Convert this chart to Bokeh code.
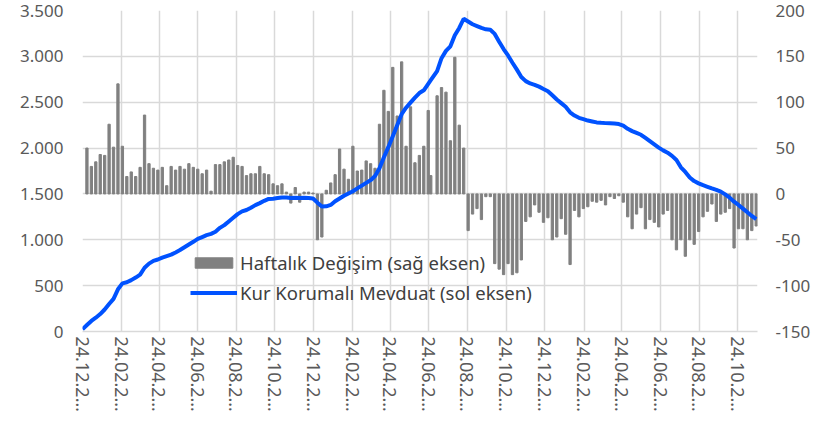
import pandas as pd
from bokeh.plotting import figure
from bokeh.models import Range1d, LinearAxis, FixedTicker, Legend, LegendItem
from bokeh.embed import file_html
from bokeh.resources import INLINE

# ---------------- data ----------------
start_date = "2021-12-24"
n_weeks = 153
holiday_shift = {79: "2023-06-27"}   # bayram week reported earlier

kkm_stock = [
    25, 70, 115, 150, 190, 240, 300, 356, 460, 525,
    537, 560, 588, 620, 695, 740, 770, 785, 805, 822,
    838, 862, 888, 918, 948, 978, 1010, 1030, 1050, 1065,
    1088, 1130, 1160, 1200, 1240, 1280, 1310, 1325, 1350, 1378,
    1400, 1425, 1446, 1448, 1455, 1462, 1460, 1455, 1458, 1455,
    1457, 1456, 1450, 1405, 1362, 1365, 1380, 1420, 1450, 1480,
    1505, 1530, 1560, 1590, 1620, 1650, 1695, 1780, 1900, 2010,
    2130, 2250, 2370, 2440, 2495, 2550, 2600, 2630, 2700, 2740,
    2840, 2980, 3060, 3110, 3230, 3310, 3410, 3380, 3350, 3330,
    3310, 3295, 3290, 3245, 3160, 3080, 3010, 2930, 2855, 2775,
    2730, 2705, 2690, 2670, 2645, 2620, 2575, 2530, 2490, 2450,
    2390, 2355, 2330, 2315, 2300, 2290, 2280, 2275, 2272, 2270,
    2268, 2262, 2245, 2210, 2185, 2165, 2145, 2110, 2075, 2040,
    2005, 1975, 1950, 1915, 1870, 1790, 1740, 1680, 1640, 1615,
    1595, 1578, 1560, 1543, 1525, 1495, 1460, 1415, 1380, 1340,
    1300, 1260, 1225,
]

weekly_change = [
    50, 30, 35, 43, 42, 76, 51, 120, 52, 19,
    24, 19, 29, 86, 33, 28, 26, 29, 9, 30,
    26, 30, 27, 33, 29, 27, 22, 26, 3, 32,
    32, 35, 37, 40, 31, 30, 20, 22, 22, 30,
    22, 21, 11, 9, 11, 2, -10, 7, -9, 2,
    2, 1, -50, -47, 4, 12, 21, 49, 27, 16,
    52, 25, 26, 36, 33, 28, 76, 113, 90, 138,
    85, 144, 52, 95, 34, 42, 52, 91, 20, 107,
    116, 111, 58, 149, 75, 50, -40, -22, -16, -28,
    -3, -3, -76, -82, -88, -76, -88, -86, -72, -30,
    -25, -12, -20, -31, -26, -50, -47, -27, -44, -77,
    -18, -25, -16, -14, -8, -9, -7, -12, -3, -5,
    -2, -9, -25, -38, -22, -15, -38, -28, -31, -36,
    -22, -18, -50, -61, -50, -68, -50, -55, -41, -25,
    -19, -11, -30, -22, -20, -16, -59, -38, -38, -50,
    -40, -35,
]

tick_dates = ["2021-12-24", "2022-02-24", "2022-04-24", "2022-06-24", "2022-08-24",
              "2022-10-24", "2022-12-24", "2023-02-24", "2023-04-24", "2023-06-24",
              "2023-08-24", "2023-10-24", "2023-12-24", "2024-02-24", "2024-04-24",
              "2024-06-24", "2024-08-24", "2024-10-24"]
tick_labels = ["24.12.2\u2026", "24.02.2\u2026", "24.04.2\u2026", "24.06.2\u2026", "24.08.2\u2026",
               "24.10.2\u2026", "24.12.2\u2026", "24.02.2\u2026", "24.04.2\u2026", "24.06.2\u2026",
               "24.08.2\u2026", "24.10.2\u2026", "24.12.2\u2026", "24.02.2\u2026", "24.04.2\u2026",
               "24.06.2\u2026", "24.08.2\u2026", "24.10.2\u2026"]

left_ticks = [0, 500, 1000, 1500, 2000, 2500, 3000, 3500]
left_tick_labels = ["0", "500", "1.000", "1.500", "2.000", "2.500", "3.000", "3.500"]
right_ticks = [-150, -100, -50, 0, 50, 100, 150, 200]
right_tick_labels = ["-150", "-100", "-50", "0", "50", "100", "150", "200"]

bar_label = "Haftalık Değişim (sağ eksen)"
line_label = "Kur Korumalı Mevduat (sol eksen)"

# ---------------- positions (days since start) ----------------
d0 = pd.Timestamp(start_date)
dates = list(pd.date_range(start_date, periods=n_weeks, freq="7D"))
for k, v in holiday_shift.items():
    dates[k] = pd.Timestamp(v)
x_days = [int((d - d0).days) for d in dates]
tick_pos = [int((pd.Timestamp(t) - d0).days) for t in tick_dates]

FONT = "Noto Sans"
TICK_COLOR = "#595959"
GRID = "#d9d9d9"

p = figure(width=821, height=423, output_backend="svg", toolbar_location=None,
           x_range=Range1d(0, x_days[-1] + 2), y_range=Range1d(0, 3500),
           min_border_left=82, min_border_right=64, min_border_top=10, min_border_bottom=92)
p.outline_line_color = None
p.background_fill_color = "white"
p.border_fill_color = "white"

p.extra_y_ranges = {"right": Range1d(-150, 200)}

# axes
p.yaxis.ticker = FixedTicker(ticks=left_ticks)
p.yaxis.major_label_overrides = {t: l for t, l in zip(left_ticks, left_tick_labels)}
p.xaxis.ticker = FixedTicker(ticks=tick_pos)
p.xaxis.major_label_overrides = {t: l for t, l in zip(tick_pos, tick_labels)}
p.xaxis.major_label_orientation = "vertical"

right_axis = LinearAxis(y_range_name="right", ticker=FixedTicker(ticks=right_ticks))
right_axis.major_label_overrides = {t: l for t, l in zip(right_ticks, right_tick_labels)}
p.add_layout(right_axis, "right")

for ax in [p.yaxis[0], right_axis, p.xaxis[0]]:
    ax.major_tick_line_color = None
    ax.minor_tick_line_color = None
    ax.major_tick_out = 0
    ax.major_tick_in = 0
    ax.minor_tick_out = 0
    ax.major_label_text_font = FONT
    ax.major_label_text_font_size = "17px"
    ax.major_label_text_color = TICK_COLOR
p.xaxis.major_label_text_font_size = "18px"
p.yaxis[0].axis_line_color = None
right_axis.axis_line_color = None
p.yaxis[0].major_label_standoff = 19
right_axis.major_label_standoff = 18
p.xaxis.axis_line_color = GRID
p.xaxis.axis_line_width = 1.5
p.xaxis.major_label_standoff = 5

p.xgrid.ticker = FixedTicker(ticks=tick_pos)
p.xgrid.grid_line_color = GRID
p.xgrid.grid_line_width = 1.5
p.ygrid.grid_line_color = GRID
p.ygrid.grid_line_width = 1.5

bars = p.vbar(x=x_days[1:], top=weekly_change, bottom=0, width=3.6,
              color="#808080", y_range_name="right")
line = p.line(x_days, kkm_stock, line_width=4, color="#0052ff")

legend = Legend(items=[LegendItem(label=bar_label, renderers=[bars]),
                       LegendItem(label=line_label, renderers=[line])],
                location=(108, 26), orientation="vertical")
legend.label_text_font = FONT
legend.label_text_font_size = "18.5px"
legend.label_text_color = "#404040"
legend.glyph_width = 47
legend.glyph_height = 13
legend.label_height = 20
legend.spacing = 5
legend.padding = 4
legend.label_standoff = 3
legend.border_line_color = None
legend.background_fill_alpha = 0
legend.margin = 0
p.add_layout(legend, "center")

open("out.html", "w").write(file_html(p, INLINE))
